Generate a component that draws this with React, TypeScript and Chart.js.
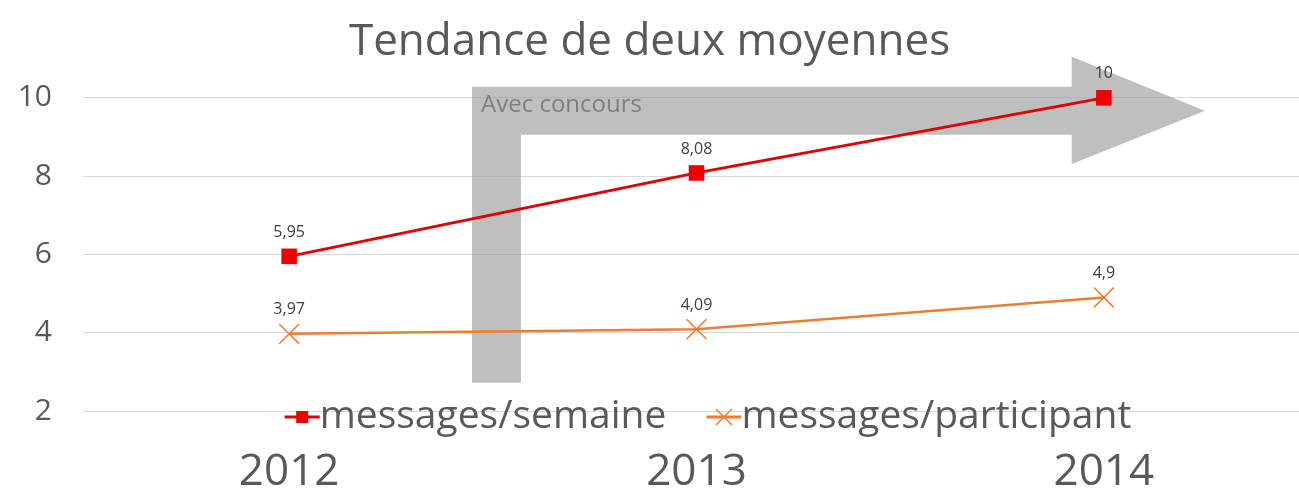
import React, { useEffect, useRef } from "react";
import { Chart, registerables } from "chart.js";

Chart.register(...registerables);

const categories = [2012, 2013, 2014];
const seriesNames = ["messages/semaine", "messages/participant"];
const semaineValues = [5.95, 8.08, 10];
const participantValues = [3.97, 4.09, 4.9];
const yTicks = [2, 4, 6, 8, 10];
const titleText = "Tendance de deux moyennes";
const arrowText = "Avec concours";

const FONT = "'Open Sans', sans-serif";
const RED = "#E00000";
const ORANGE = "#ED7D31";

const fmt = (v: number) => String(v).replace(".", ",");

const arrowPlugin = {
  id: "arrowPlugin",
  beforeDatasetsDraw(chart: any) {
    const { ctx } = chart;
    const xs = chart.scales.x;
    const ys = chart.scales.y;
    const X = (v: number) => xs.getPixelForValue(v);
    const Y = (v: number) => ys.getPixelForValue(v);
    const xL = X(2012.449), xI = X(2012.569), xB = X(2013.921), xT = X(2014.248);
    const yTop = Y(10.28), yBar = Y(9.054), yHT = Y(11.05), yHB = Y(8.31), yTip = Y(9.67), yBot = Y(2.72);
    ctx.save();
    ctx.fillStyle = "rgba(160,160,160,0.68)";
    ctx.beginPath();
    ctx.moveTo(xL, yBot);
    ctx.lineTo(xL, yTop);
    ctx.lineTo(xB, yTop);
    ctx.lineTo(xB, yHT);
    ctx.lineTo(xT, yTip);
    ctx.lineTo(xB, yHB);
    ctx.lineTo(xB, yBar);
    ctx.lineTo(xI, yBar);
    ctx.lineTo(xI, yBot);
    ctx.closePath();
    ctx.fill();
    ctx.fillStyle = "#7F7F7F";
    ctx.font = `24px ${FONT}`;
    ctx.textAlign = "left";
    ctx.textBaseline = "middle";
    ctx.fillText(arrowText, xL + 9, Y(9.8));
    ctx.restore();
  },
};

const labelPlugin = {
  id: "labelPlugin",
  afterDatasetsDraw(chart: any) {
    const { ctx } = chart;
    ctx.save();
    ctx.fillStyle = "#404040";
    ctx.font = `16px ${FONT}`;
    ctx.textAlign = "center";
    ctx.textBaseline = "middle";
    chart.data.datasets.forEach((ds: any, i: number) => {
      const meta = chart.getDatasetMeta(i);
      meta.data.forEach((pt: any, j: number) => {
        ctx.fillText(fmt(ds.data[j].y), pt.x, pt.y - 24);
      });
    });
    ctx.restore();
  },
};

const legendPlugin = {
  id: "legendPlugin",
  afterDraw(chart: any) {
    const { ctx, chartArea } = chart;
    ctx.save();
    ctx.font = `39px ${FONT}`;
    ctx.textBaseline = "middle";
    const lineLen = 35;
    const gap = 40;
    const widths = seriesNames.map((n) => ctx.measureText(n).width);
    const total = widths.reduce((a, w) => a + lineLen + w, 0) + gap;
    let x = (chartArea.left + chartArea.right) / 2 + 17 - total / 2;
    const y = chartArea.bottom + 6;
    chart.data.datasets.forEach((ds: any, i: number) => {
      ctx.strokeStyle = ds.borderColor;
      ctx.lineWidth = 3;
      ctx.beginPath();
      ctx.moveTo(x, y);
      ctx.lineTo(x + lineLen, y);
      ctx.stroke();
      const cx = x + lineLen / 2;
      if (i === 0) {
        ctx.fillStyle = ds.pointBackgroundColor;
        ctx.fillRect(cx - 6, y - 6, 12, 12);
      } else {
        ctx.lineWidth = 1.5;
        ctx.beginPath();
        ctx.moveTo(cx - 8, y - 8);
        ctx.lineTo(cx + 8, y + 8);
        ctx.moveTo(cx - 8, y + 8);
        ctx.lineTo(cx + 8, y - 8);
        ctx.stroke();
      }
      ctx.fillStyle = "#595959";
      ctx.textAlign = "left";
      ctx.fillText(seriesNames[i], x + lineLen, y);
      x += lineLen + widths[i] + gap;
    });
    ctx.restore();
  },
};

export default function App() {
  const ref = useRef<HTMLCanvasElement>(null);
  useEffect(() => {
    document.body.style.margin = "0";
    const chart = new Chart(ref.current as HTMLCanvasElement, {
      type: "line",
      data: {
        datasets: [
          {
            label: seriesNames[0],
            data: categories.map((c, i) => ({ x: c, y: semaineValues[i] })),
            borderColor: RED,
            backgroundColor: RED,
            pointBackgroundColor: "#F00000",
            pointBorderColor: "#F00000",
            borderWidth: 2.8,
            pointStyle: "rect",
            pointRadius: 11,
            pointBorderWidth: 0,
            clip: false,
          },
          {
            label: seriesNames[1],
            data: categories.map((c, i) => ({ x: c, y: participantValues[i] })),
            borderColor: ORANGE,
            backgroundColor: ORANGE,
            pointBackgroundColor: ORANGE,
            pointBorderColor: ORANGE,
            borderWidth: 2.5,
            pointStyle: "crossRot",
            pointRadius: 14,
            pointBorderWidth: 1.5,
            clip: false,
          },
        ],
      },
      options: {
        responsive: false,
        animation: false,
        events: [],
        layout: { padding: 0, autoPadding: false },
        plugins: {
          legend: { display: false },
          tooltip: { enabled: false },
          title: {
            display: true,
            text: titleText,
            color: "#595959",
            font: { family: FONT, size: 44, weight: "normal" },
            padding: { top: 16, bottom: 29 },
          },
        },
        scales: {
          x: {
            type: "linear",
            min: 2011.494,
            max: 2014.479,
            afterBuildTicks: (scale: any) => {
              scale.ticks = categories.map((v) => ({ value: v }));
            },
            afterFit: (scale: any) => {
              scale.height = 84;
            },
            grid: { display: false, drawTicks: false },
            border: { display: false },
            ticks: {
              color: "#595959",
              font: { family: FONT, size: 44 },
              padding: 35,
              callback: (v: any) => String(v),
            },
          },
          y: {
            min: 2,
            max: 10,
            afterBuildTicks: (scale: any) => {
              scale.ticks = yTicks.map((v) => ({ value: v }));
            },
            afterFit: (scale: any) => {
              scale.width = 83;
            },
            grid: { color: "#D9D9D9", lineWidth: 1, drawTicks: false },
            border: { display: false },
            ticks: {
              color: "#595959",
              font: { family: FONT, size: 30 },
              padding: 31,
            },
          },
        },
      },
      plugins: [arrowPlugin, labelPlugin, legendPlugin],
    });
    return () => chart.destroy();
  }, []);
  return (
    <div style={{ width: 1299, height: 495 }}>
      <canvas ref={ref} width={1299} height={495} />
    </div>
  );
}
